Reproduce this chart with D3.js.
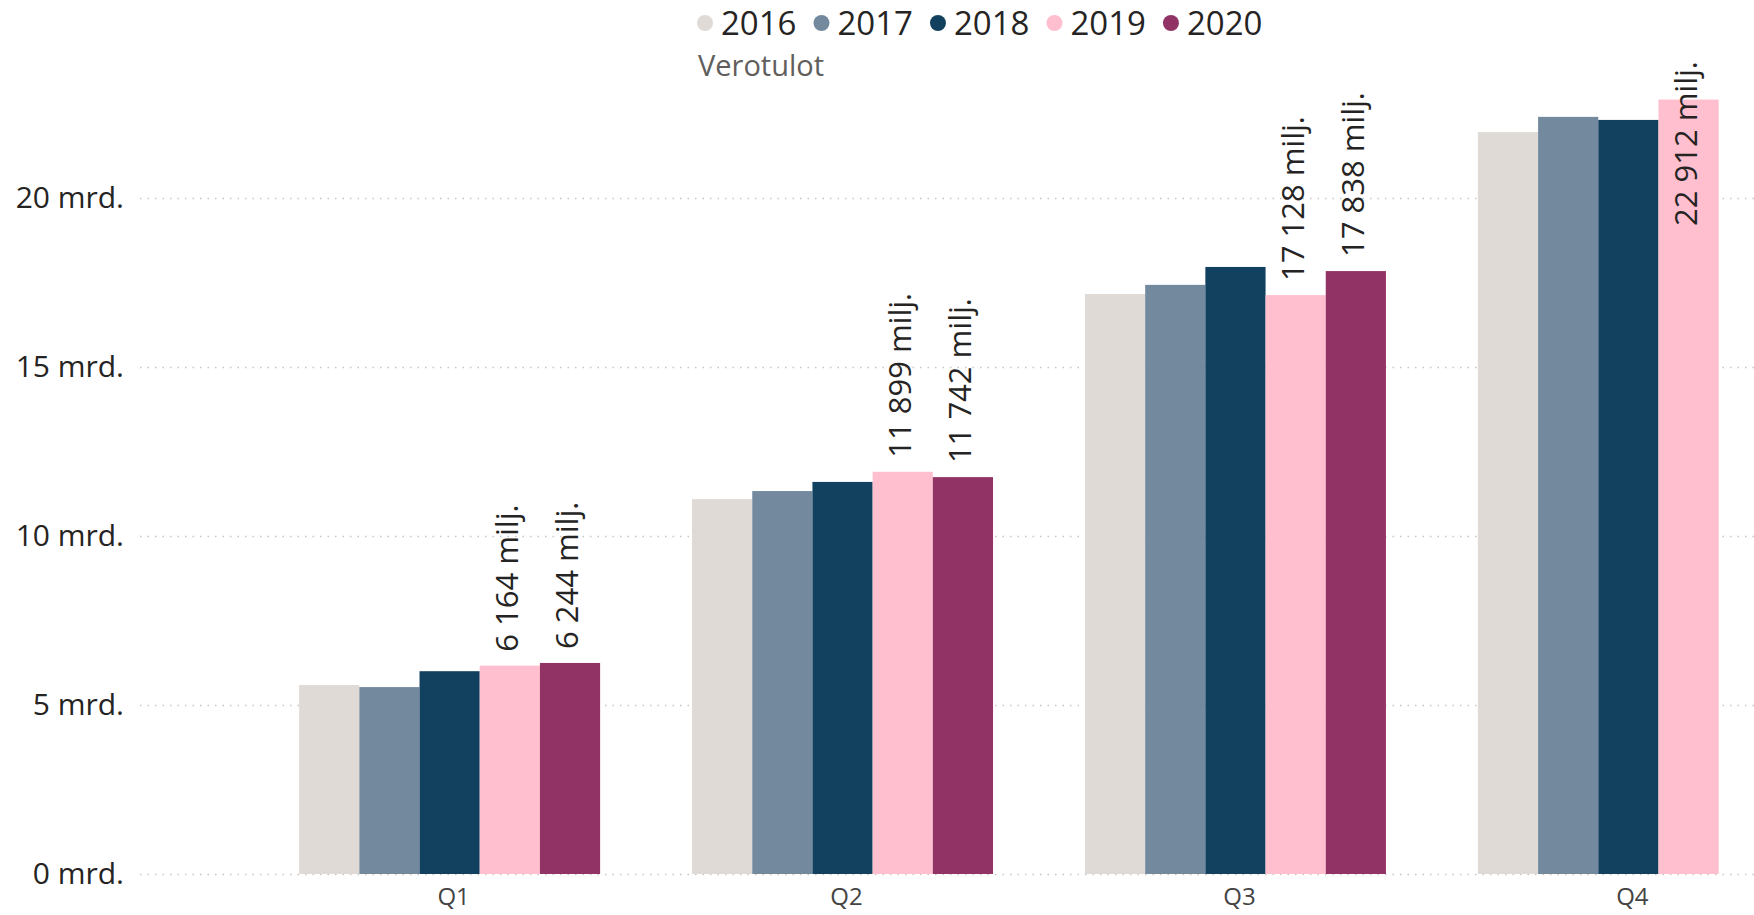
<!DOCTYPE html>
<html lang="fi">
<head>
<meta charset="UTF-8">
<title>Verotulot</title>
<script src="https://d3js.org/d3.v7.min.js"></script>
<style>
  body { margin: 0; background: #fff; }
  svg, svg text { font-family: "Open Sans", "Liberation Sans", sans-serif; }
</style>
</head>
<body>
<script>
// data (milj. euroa)
const quarters = ['Q1', 'Q2', 'Q3', 'Q4'];
const years = ['2016', '2017', '2018', '2019', '2020'];
const v2016 = [5590, 11090, 17160, 21950];
const v2017 = [5530, 11330, 17430, 22400];
const v2018 = [6000, 11600, 17960, 22310];
const v2019 = [6164, 11899, 17128, 22912];
const v2020 = [6244, 11742, 17838, null];
const yTicks = [0, 5, 10, 15, 20];
const labelledYears = ['2019', '2020'];
const colors = ['#dfdad6', '#738a9e', '#12405f', '#ffbfcf', '#923366'];

const seriesValues = [v2016, v2017, v2018, v2019, v2020];

const width = 1754, height = 915;
const svg = d3.select('body').append('svg').attr('width', width).attr('height', height);

const color = d3.scaleOrdinal(years, colors);

const fi = d3.formatLocale({ decimal: ',', thousands: '\u00a0', grouping: [3], currency: ['', ' €'] });
const fmt = fi.format(',.0f');

// scales
const x = d3.scaleBand().domain(quarters).range([140, 1938]).paddingInner(0.234).paddingOuter(0.405);
const x1 = d3.scaleBand().domain(years).range([0, x.bandwidth()]);
const y = d3.scaleLinear().domain([0, 25000]).range([874, 29]);

// gridlines
svg.append('g')
  .attr('transform', 'translate(140,0)')
  .call(d3.axisRight(y).tickValues(yTicks.map(d => d * 1000)).tickSize(width - 140).tickFormat(''))
  .call(g => g.select('.domain').remove())
  .selectAll('line')
    .attr('stroke', '#c8c6c4')
    .attr('stroke-width', 1.5)
    .attr('stroke-dasharray', '1.5,6');

// y axis labels
svg.append('g')
  .attr('transform', 'translate(140,0)')
  .call(d3.axisLeft(y).tickValues(yTicks.map(d => d * 1000)).tickSize(0).tickPadding(16)
    .tickFormat(d => (d / 1000) + ' mrd.'))
  .call(g => g.select('.domain').remove())
  .attr('font-family', null)
  .selectAll('text')
    .style('font-size', '30px')
    .attr('fill', '#252423');

// x axis labels
svg.append('g')
  .attr('transform', 'translate(4,874)')
  .call(d3.axisBottom(x).tickSize(0).tickPadding(14))
  .call(g => g.select('.domain').remove())
  .attr('font-family', null)
  .selectAll('text')
    .style('font-size', '24px')
    .attr('fill', '#444');

// bars
const rows = [];
quarters.forEach((q, qi) => {
  years.forEach((yr, yi) => {
    const v = seriesValues[yi][qi];
    if (v != null) rows.push({ q, yr, v });
  });
});

svg.append('g')
  .selectAll('rect')
  .data(rows)
  .join('rect')
    .attr('x', d => x(d.q) + x1(d.yr))
    .attr('y', d => y(d.v))
    .attr('width', x1.bandwidth())
    .attr('height', d => y(0) - y(d.v))
    .attr('fill', d => color(d.yr));

// data labels (rotated)
const topLimit = 61;
const labels = svg.append('g')
  .selectAll('text')
  .data(rows.filter(d => labelledYears.includes(d.yr)))
  .join('text')
    .style('font-size', '31px')
    .attr('fill', '#252423')
    .attr('dominant-baseline', 'middle')
    .text(d => fmt(d.v) + ' milj.');

labels.each(function(d) {
  const len = this.getComputedTextLength();
  const cx = x(d.q) + x1(d.yr) + x1.bandwidth() / 2;
  let start = y(d.v) - 14;
  if (start - len < topLimit) start = topLimit + len;
  d3.select(this)
    .attr('text-anchor', 'start')
    .attr('transform', `translate(${cx},${start}) rotate(-90)`);
});

// legend
const legend = svg.append('g');
let lx = 705;
years.forEach(yr => {
  legend.append('circle')
    .attr('cx', lx).attr('cy', 23).attr('r', 8)
    .attr('fill', color(yr));
  const t = legend.append('text')
    .attr('x', lx + 16).attr('y', 35)
    .style('font-size', '33px')
    .attr('fill', '#252423')
    .text(yr);
  lx += 16 + t.node().getComputedTextLength() + 25;
});

svg.append('text')
  .attr('x', 698).attr('y', 76)
  .style('font-size', '29px')
  .attr('fill', '#605e5c')
  .text('Verotulot');
</script>
</body>
</html>
